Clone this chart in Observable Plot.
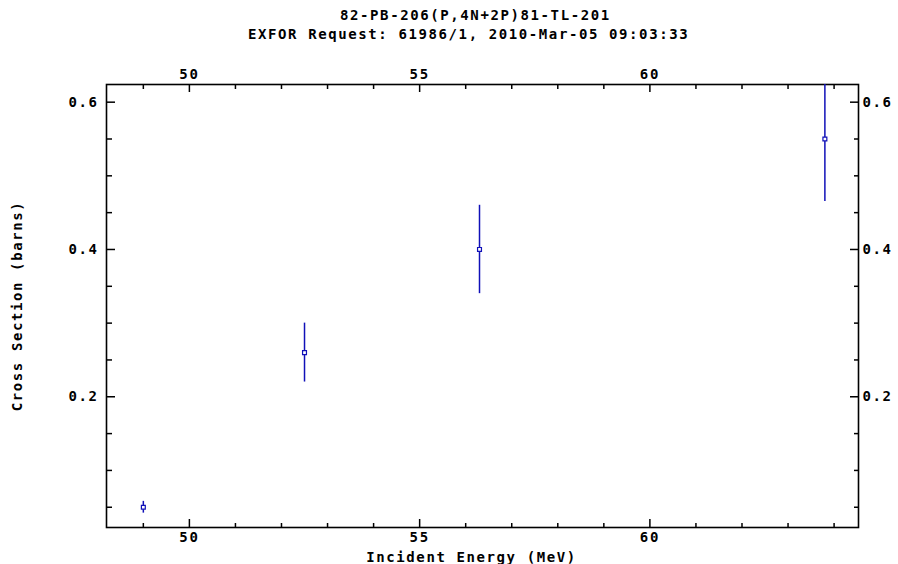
<!DOCTYPE html>
<html><head><meta charset="utf-8">
<script src="https://cdn.jsdelivr.net/npm/d3@7"></script>
<script src="https://cdn.jsdelivr.net/npm/@observablehq/plot@0.6"></script>
<style>
body{margin:0;background:#fff;}
#title{width:898px;height:60px;text-align:left;font-family:"DejaVu Sans Mono",monospace;font-weight:bold;font-size:14px;letter-spacing:1.6px;color:#000;}
#title div{height:19px;line-height:19px;white-space:nowrap;}
#chart svg{display:block;}
</style></head><body>
<div id="title"><div style="padding-top:6px;padding-left:340px">82-PB-206(P,4N+2P)81-TL-201</div><div style="padding-left:248px">EXFOR Request: 61986/1, 2010-Mar-05 09:03:33</div></div>
<div id="chart"></div>
<script>
const energy = [49.0, 52.5, 56.3, 63.8];
const sigma = [0.05, 0.26, 0.40, 0.55];
const dSigma = [0.008, 0.04, 0.06, 0.085];
const xMajor = [50, 55, 60];
const xMinor = [49, 51, 52, 53, 54, 56, 57, 58, 59, 61, 62, 63, 64];
const yMajor = [0.2, 0.4, 0.6];
const yMinor = [0.05, 0.1, 0.15, 0.25, 0.3, 0.35, 0.45, 0.5, 0.55];
const xLabel = "Incident Energy (MeV)";
const yLabel = "Cross Section (barns)";

const data = energy.map((e, i) => ({e, s: sigma[i], d: dSigma[i]}));
const blue = "#1010b8";
const fmtY = d3.format(".1f");

const plot = Plot.plot({
  width: 898, height: 504,
  marginTop: 24, marginBottom: 37, marginLeft: 106, marginRight: 40,
  style: {fontFamily: "DejaVu Sans Mono", fontWeight: "bold", fontSize: "14px", letterSpacing: "1.6px", background: "#fff", color: "#000"},
  x: {domain: [48.2, 64.53]},
  y: {domain: [0.0225, 0.624]},
  marks: [
    Plot.frame({stroke: "#000", strokeWidth: 1.6}),
    // bottom
    Plot.axisX(xMajor, {anchor: "bottom", tickSize: -8, tickPadding: 13, strokeWidth: 1.5, label: null}),
    Plot.axisX(xMinor, {anchor: "bottom", tickSize: -4, text: null, label: null, strokeWidth: 1.5}),
    Plot.text([xLabel], {text: d => d, frameAnchor: "bottom", lineAnchor: "middle", dy: 30, dx: -11}),
    // top
    Plot.axisX(xMajor, {anchor: "top", tickSize: -7, tickPadding: 13, strokeWidth: 1.5, label: null}),
    Plot.axisX(xMinor, {anchor: "top", tickSize: -4, text: null, label: null, strokeWidth: 1.5}),
    // left
    Plot.axisY(yMajor, {anchor: "left", tickSize: -9, tickPadding: 17, tickFormat: fmtY, strokeWidth: 1.5, label: yLabel, labelAnchor: "center", labelArrow: "none", labelOffset: 94}),
    Plot.axisY(yMinor, {anchor: "left", tickSize: -6, text: null, label: null, strokeWidth: 1.5}),
    // right
    Plot.axisY(yMajor, {anchor: "right", tickSize: -9, tickPadding: 13, tickFormat: fmtY, strokeWidth: 1.5, label: null}),
    Plot.axisY(yMinor, {anchor: "right", tickSize: -5, text: null, label: null, strokeWidth: 1.5}),
    // data
    Plot.ruleX(data, {x: "e", y1: d => d.s - d.d, y2: d => d.s + d.d, stroke: blue, strokeWidth: 1.5, clip: true}),
    Plot.dot(data, {x: "e", y: "s", symbol: "square", r: 2.2, stroke: blue, fill: "white", strokeWidth: 1.2})
  ]
});
document.getElementById("chart").appendChild(plot);
</script>
</body></html>
